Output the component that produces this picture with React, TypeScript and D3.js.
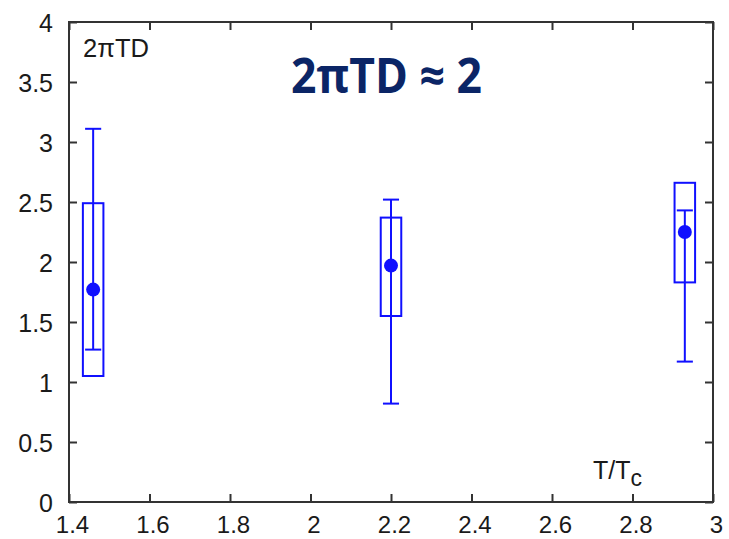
import * as d3 from 'd3';
import React, { FunctionComponent, useEffect, useRef } from 'react';

// values
const temps = [1.46, 2.2, 2.93];
const centers = [1.77, 1.97, 2.25];
const errLow = [1.27, 0.82, 1.17];
const errHigh = [3.11, 2.52, 2.43];
const boxLow = [1.05, 1.55, 1.83];
const boxHigh = [2.49, 2.37, 2.66];
const xTicks = [1.4, 1.6, 1.8, 2, 2.2, 2.4, 2.6, 2.8, 3];
const yTicks = [0, 0.5, 1, 1.5, 2, 2.5, 3, 3.5, 4];

const App: FunctionComponent = () => {
  const svgRef = useRef<SVGSVGElement>(null);

  useEffect(() => {
    const W = 729;
    const H = 539;
    const margin = { top: 22, right: 16, bottom: 37, left: 69 };
    const width = W - margin.left - margin.right;
    const height = H - margin.top - margin.bottom;
    const blue = '#1010ff';
    const font = '"Liberation Sans", Arial, sans-serif';

    const root = d3.select(svgRef.current).attr('width', W).attr('height', H);
    root.selectAll('*').remove();
    root.append('rect').attr('width', W).attr('height', H).attr('fill', '#fff');

    const svg = root.append('g').attr('transform', `translate(${margin.left}, ${margin.top})`);

    const x = d3.scaleLinear().domain([1.4, 3]).range([0, width]);
    const y = d3.scaleLinear().domain([0, 4]).range([height, 0]);

    // axes with inward ticks on all four sides
    const tickLen = 8;
    const axisStyle = (g: d3.Selection<SVGGElement, unknown, null, undefined>) => {
      g.select('.domain').remove();
      g.selectAll('line').attr('stroke', '#333').attr('stroke-width', 2);
    };
    svg.append('g').attr('transform', `translate(0, ${height})`)
      .call(d3.axisBottom(x).tickValues(xTicks).tickSize(-tickLen).tickFormat(() => ''))
      .call(axisStyle);
    svg.append('g')
      .call(d3.axisTop(x).tickValues(xTicks).tickSize(-tickLen).tickFormat(() => ''))
      .call(axisStyle);
    svg.append('g')
      .call(d3.axisLeft(y).tickValues(yTicks).tickSize(-tickLen).tickFormat(() => ''))
      .call(axisStyle);
    svg.append('g').attr('transform', `translate(${width}, 0)`)
      .call(d3.axisRight(y).tickValues(yTicks).tickSize(-tickLen).tickFormat(() => ''))
      .call(axisStyle);

    // tick labels
    svg.append('g').selectAll('text').data(xTicks).join('text')
      .attr('x', (d) => x(d) + 3.5)
      .attr('y', height + 31)
      .attr('text-anchor', 'middle')
      .attr('font-family', font).attr('font-size', 24).attr('fill', '#1a1a1a')
      .text((d) => d3.format('~g')(d));
    svg.append('g').selectAll('text').data(yTicks).join('text')
      .attr('x', -16)
      .attr('y', (d) => y(d) + 10)
      .attr('text-anchor', 'end')
      .attr('font-family', font).attr('font-size', 25).attr('fill', '#1a1a1a')
      .text((d) => d3.format('~g')(d));

    // frame
    svg.append('rect').attr('width', width).attr('height', height)
      .attr('fill', 'none').attr('stroke', '#333').attr('stroke-width', 2);

    const idx = d3.range(temps.length);
    const boxHalf = x(1.4 + 0.0255) - x(1.4);
    const capHalf = x(1.4 + 0.02) - x(1.4);

    // boxes
    svg.append('g').selectAll('rect').data(idx).join('rect')
      .attr('x', (i) => x(temps[i]) - boxHalf)
      .attr('y', (i) => y(boxHigh[i]))
      .attr('width', boxHalf * 2)
      .attr('height', (i) => y(boxLow[i]) - y(boxHigh[i]))
      .attr('fill', 'none').attr('stroke', blue).attr('stroke-width', 2);

    // error bars
    const eb = svg.append('g').attr('stroke', blue).attr('stroke-width', 2);
    eb.selectAll('line.v').data(idx).join('line').attr('class', 'v')
      .attr('x1', (i) => x(temps[i])).attr('x2', (i) => x(temps[i]))
      .attr('y1', (i) => y(errLow[i])).attr('y2', (i) => y(errHigh[i]));
    eb.selectAll('line.top').data(idx).join('line').attr('class', 'top')
      .attr('x1', (i) => x(temps[i]) - capHalf).attr('x2', (i) => x(temps[i]) + capHalf)
      .attr('y1', (i) => y(errHigh[i])).attr('y2', (i) => y(errHigh[i]));
    eb.selectAll('line.bot').data(idx).join('line').attr('class', 'bot')
      .attr('x1', (i) => x(temps[i]) - capHalf).attr('x2', (i) => x(temps[i]) + capHalf)
      .attr('y1', (i) => y(errLow[i])).attr('y2', (i) => y(errLow[i]));

    // central points
    svg.append('g').selectAll('circle').data(idx).join('circle')
      .attr('cx', (i) => x(temps[i])).attr('cy', (i) => y(centers[i]))
      .attr('r', 7).attr('fill', blue);

    // labels inside the frame
    svg.append('text').attr('x', 14).attr('y', 35)
      .attr('font-family', font).attr('font-size', 25).attr('fill', '#1a1a1a')
      .attr('textLength', 66).attr('lengthAdjust', 'spacingAndGlyphs')
      .text('2πTD');

    const tl = svg.append('text').attr('x', 524).attr('y', 457)
      .attr('font-family', font).attr('font-size', 25).attr('fill', '#1a1a1a');
    tl.append('tspan').text('T/T');
    tl.append('tspan').attr('dy', 7).attr('font-size', 23).text('c');

    svg.append('text').attr('x', 222).attr('y', 71)
      .attr('font-family', '"Open Sans", "Liberation Sans", sans-serif')
      .attr('font-weight', 'bold').attr('font-size', 48).attr('fill', '#0b2566')
      .attr('textLength', 191).attr('lengthAdjust', 'spacingAndGlyphs')
      .text('2πTD ≈ 2');
  }, []);

  return <svg ref={svgRef} style={{ position: 'absolute', left: 0, top: 0 }} />;
};

export default App;
